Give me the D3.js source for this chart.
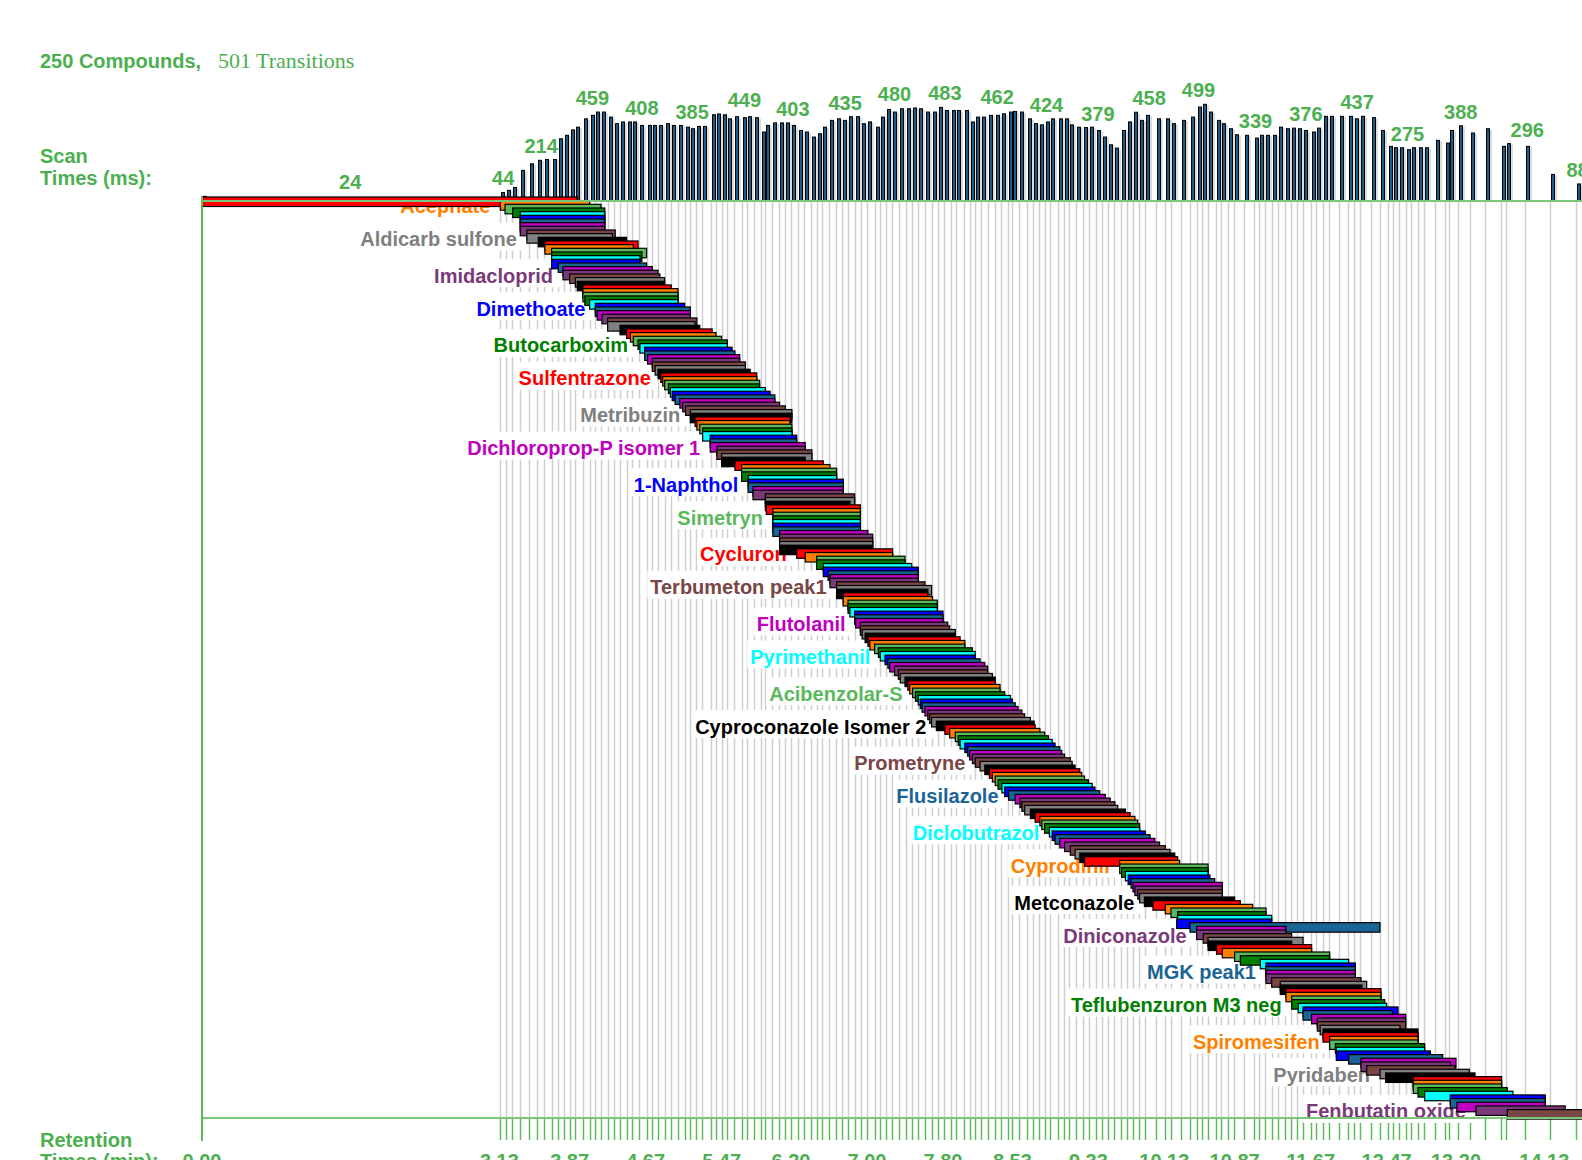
<!DOCTYPE html>
<html><head><meta charset="utf-8">
<script src="https://cdn.jsdelivr.net/npm/d3@7"></script>
<style>
html,body{margin:0;padding:0;background:#fff;}
svg{display:block;}
text{font-family:"Liberation Sans",Arial,sans-serif;font-weight:bold;}
</style></head><body>
<svg id="chart" width="1582" height="1160"></svg>
<script>
// ---- Compound retention windows (minutes), one per compound, top to bottom ----
const rtStart = [
0.00,3.14,3.19,3.27,3.35,3.35,3.35,3.35,3.35,3.42,
3.42,3.54,3.61,3.61,3.68,3.68,3.68,3.68,3.75,3.80,
3.80,3.87,3.93,3.95,4.01,4.01,4.01,4.03,4.08,4.14,
4.14,4.16,4.21,4.27,4.27,4.40,4.47,4.51,4.54,4.59,
4.61,4.66,4.66,4.69,4.74,4.74,4.77,4.80,4.83,4.85,
4.87,4.91,4.93,4.95,4.98,5.03,5.06,5.09,5.14,5.14,
5.19,5.21,5.24,5.27,5.27,5.35,5.35,5.35,5.42,5.42,
5.47,5.47,5.61,5.68,5.68,5.68,5.75,5.75,5.75,5.80,
5.80,5.93,5.93,5.93,5.94,6.01,6.01,6.01,6.01,6.01,
6.01,6.08,6.08,6.08,6.08,6.08,6.26,6.35,6.47,6.47,
6.54,6.54,6.59,6.61,6.61,6.68,6.68,6.68,6.75,6.75,
6.80,6.80,6.82,6.87,6.87,6.88,6.93,6.93,6.95,6.98,
7.01,7.03,7.08,7.12,7.14,7.19,7.22,7.24,7.29,7.33,
7.35,7.40,7.43,7.45,7.48,7.51,7.54,7.56,7.58,7.61,
7.64,7.66,7.68,7.73,7.82,7.87,7.93,7.96,7.98,8.03,
8.06,8.08,8.11,8.14,8.19,8.24,8.29,8.32,8.35,8.38,
8.42,8.45,8.49,8.56,8.61,8.63,8.66,8.72,8.77,8.82,
8.84,8.87,8.92,8.95,8.98,9.03,9.08,9.14,9.19,9.24,
9.29,9.66,9.66,9.68,9.72,9.75,9.78,9.80,9.82,9.85,
9.87,9.92,10.01,10.14,10.20,10.27,10.27,10.26,10.40,10.47,
10.47,10.54,10.59,10.59,10.68,10.74,10.87,10.93,11.14,11.20,
11.20,11.20,11.20,11.26,11.35,11.35,11.41,11.41,11.47,11.47,
11.54,11.59,11.59,11.68,11.74,11.74,11.77,11.80,11.80,11.87,
11.87,11.93,11.94,11.94,12.07,12.20,12.20,12.26,12.40,12.46,
12.75,12.75,12.75,12.80,12.87,13.14,13.14,13.21,13.41,13.74
];
const rtEnd = [
3.95,4.08,4.20,4.24,4.24,4.24,4.24,4.24,4.24,4.35,
4.32,4.47,4.59,4.54,4.68,4.63,4.61,4.61,4.68,4.74,
4.80,4.82,4.87,4.87,4.94,5.01,5.01,5.01,5.01,5.08,
5.14,5.14,5.14,5.21,5.19,5.24,5.37,5.41,5.47,5.53,
5.53,5.58,5.61,5.66,5.66,5.72,5.72,5.77,5.84,5.84,
5.87,5.87,5.93,5.98,6.03,6.03,6.08,6.14,6.21,6.21,
6.19,6.19,6.21,6.21,6.21,6.26,6.26,6.35,6.35,6.42,
6.42,6.35,6.54,6.61,6.68,6.68,6.68,6.75,6.75,6.75,
6.75,6.87,6.87,6.82,6.93,6.93,6.93,6.93,6.93,6.93,
6.93,7.01,7.06,7.06,7.06,7.06,7.27,7.27,7.40,7.40,
7.47,7.54,7.54,7.54,7.54,7.61,7.68,7.64,7.64,7.69,
7.74,7.74,7.74,7.80,7.80,7.80,7.85,7.87,7.93,7.93,
7.98,8.03,8.03,8.11,8.14,8.14,8.19,8.24,8.27,8.27,
8.32,8.35,8.35,8.40,8.40,8.45,8.51,8.53,8.56,8.59,
8.63,8.66,8.72,8.76,8.77,8.82,8.87,8.91,8.95,8.98,
9.03,9.05,9.08,9.14,9.16,9.19,9.24,9.26,9.29,9.33,
9.37,9.40,9.45,9.51,9.56,9.61,9.64,9.72,9.77,9.82,
9.85,9.87,9.87,9.93,9.98,10.03,10.08,10.14,10.19,10.24,
10.27,10.29,10.59,10.59,10.59,10.61,10.66,10.74,10.74,10.74,
10.74,10.87,10.93,11.06,11.20,11.20,11.26,11.26,12.40,11.41,
11.41,11.47,11.59,11.47,11.68,11.68,11.87,11.87,12.07,12.14,
12.14,12.14,12.14,12.20,12.26,12.21,12.41,12.41,12.41,12.45,
12.47,12.59,12.53,12.67,12.67,12.67,12.61,12.80,12.80,12.80,
12.80,12.87,12.87,12.93,13.06,13.20,13.14,13.19,13.34,13.40,
13.68,13.68,13.68,13.74,13.80,14.14,14.14,14.14,14.35,14.82
];
// ---- Labelled compounds (row index -> name) ----
const labelIndex = [1,10,20,29,39,48,58,67,77,86,96,105,115,124,134,143,153,162,172,181,191,200,210,219,229,238,248];
const labelNames = ["Acephate","Aldicarb sulfone","Imidacloprid","Dimethoate","Butocarboxim","Sulfentrazone","Metribuzin",
 "Dichloroprop-P isomer 1","1-Naphthol","Simetryn","Cycluron","Terbumeton peak1","Flutolanil","Pyrimethanil",
 "Acibenzolar-S","Cyproconazole Isomer 2","Prometryne","Flusilazole","Diclobutrazol","Cyprodinil","Metconazole",
 "Diniconazole","MGK peak1","Teflubenzuron M3 neg","Spiromesifen","Pyridaben","Fenbutatin oxide"];
// ---- Scan segments: event time (min) and scan time (ms) ----
const scanEventTimes = [
0,3.14,3.20,3.26,3.35,3.44,3.53,3.60,3.68,3.75,
3.81,3.87,3.93,4.01,4.08,4.14,4.20,4.27,4.34,4.40,
4.47,4.53,4.60,4.68,4.74,4.80,4.87,4.94,5.01,5.08,
5.14,5.20,5.26,5.36,5.41,5.47,5.53,5.60,5.68,5.74,
5.81,5.88,5.93,6.00,6.07,6.14,6.20,6.27,6.34,6.41,
6.47,6.53,6.60,6.67,6.74,6.80,6.87,6.94,7.00,7.08,
7.14,7.20,7.26,7.34,7.41,7.47,7.54,7.61,7.68,7.75,
7.81,7.88,7.94,8.02,8.08,8.14,8.20,8.27,8.35,8.41,
8.48,8.53,8.60,8.68,8.75,8.81,8.87,8.93,9.01,9.07,
9.13,9.20,9.27,9.34,9.41,9.47,9.54,9.60,9.67,9.74,
9.80,9.86,9.93,10.04,10.14,10.20,10.31,10.40,10.47,10.53,
10.59,10.67,10.73,10.80,10.86,10.97,11.07,11.13,11.19,11.26,
11.33,11.40,11.46,11.53,11.59,11.67,11.73,11.80,11.86,11.97,
12.06,12.13,12.19,12.31,12.40,12.48,12.54,12.60,12.67,12.73,
12.80,12.86,12.98,13.08,13.13,13.22,13.35,13.50,13.67,13.73,
13.93,14.19,14.46
];
const scanMs = [
24,44,55,70,158,192,210,214,214,321,
339,367,381,424,442,459,459,433,399,408,
408,408,390,390,390,390,399,390,390,381,
373,385,385,445,449,445,424,435,430,435,
430,356,390,403,403,403,390,364,356,330,
347,381,416,424,416,435,435,399,408,381,
433,472,459,476,476,480,476,459,459,483,
467,467,467,467,408,433,433,442,442,450,
459,462,459,424,399,393,408,424,424,424,
393,381,379,381,364,330,290,273,364,408,
458,416,442,424,424,399,416,433,485,499,
459,416,399,373,342,339,325,339,339,339,
381,373,376,373,364,356,376,437,437,437,
437,424,437,430,364,282,275,275,265,275,
275,275,313,299,364,388,351,373,282,296,
282,137,88
];
const scanLabelTimes  = [1.56,3.17,3.57,4.11,4.63,5.16,5.71,6.22,6.77,7.29,7.82,8.37,8.89,9.43,9.97,10.49,11.09,11.62,12.16,12.69,13.25,13.95,14.48];
const scanLabelValues = [24,44,214,459,408,385,449,403,435,480,483,462,424,379,458,499,339,376,437,275,388,296,88];
// ---- Retention-time axis labels (min) ----
const axisTickValues = [0,3.13,3.87,4.67,5.47,6.20,7.00,7.80,8.53,9.33,10.13,10.87,11.67,12.47,13.20,14.13];

const colorCycle = ["#ff0000","#ff8000","#5cb85c","#008000","#00ffff","#0000ff","#1a6496","#c000c0","#7a3a7a","#7a4545","#808080","#000000"];

const svg = d3.select("#chart");
const x = d3.scaleLinear().domain([0, 14]).range([202, 202 + 95 * 14]);
const yRow = d3.scaleLinear().domain([0, 250]).range([197, 197 + 250 * 3.665]);
const yScan = d3.scaleLinear().domain([0, 499]).range([201, 104.3]);
const plotTop = 201, plotBottom = 1118, rowH = 9.5;
const GREEN = "#4caf50", AXIS = "#7cc67c", TICK = "#5cba5c";

// gridlines
const evts = scanEventTimes.filter(t => t > 0);
svg.append("g").selectAll("line").data(evts).join("line")
  .attr("x1", d => Math.round(x(d)) + 0.5).attr("x2", d => Math.round(x(d)) + 0.5)
  .attr("y1", plotTop).attr("y2", plotBottom)
  .attr("stroke", "#cfcfcf").attr("stroke-width", 1.5);
// ticks below bottom axis
svg.append("g").selectAll("line").data(evts).join("line")
  .attr("x1", d => Math.round(x(d)) + 0.5).attr("x2", d => Math.round(x(d)) + 0.5)
  .attr("y1", plotBottom).attr("y2", 1140)
  .attr("stroke", TICK).attr("stroke-width", 1.5);

// scan time bars
const scanData = scanEventTimes.slice(0, scanMs.length).map((t, i) => ({t, v: scanMs[i]}));
const sg = svg.append("g");
sg.selectAll("line").data(scanData).join("line")
  .attr("x1", d => Math.round(x(d.t)) + 6).attr("x2", d => Math.round(x(d.t)) + 6)
  .attr("y1", d => yScan(d.v) + 1).attr("y2", plotTop)
  .attr("stroke", "#b8b8b8").attr("stroke-width", 1);
sg.selectAll("rect").data(scanData).join("rect")
  .attr("x", d => Math.round(x(d.t)) + 1.5).attr("width", 3)
  .attr("y", d => yScan(d.v)).attr("height", d => plotTop - yScan(d.v))
  .attr("fill", "#1c5a88").attr("stroke", "#000").attr("stroke-width", 1);

// scan time labels
svg.append("g").selectAll("text").data(scanLabelTimes.map((t, i) => ({t, v: scanLabelValues[i]}))).join("text")
  .attr("x", d => x(d.t)).attr("y", d => yScan(d.v) - 7)
  .attr("text-anchor", "middle").attr("font-size", 20).attr("fill", GREEN)
  .text(d => d.v);

// compound labels with white boxes
const lg = svg.append("g");
labelIndex.forEach((idx, k) => {
  const top = yRow(idx);
  const xr = x(rtStart[idx]) - 10;
  const t = lg.append("text").attr("x", xr).attr("y", top + 12.5)
    .attr("text-anchor", "end").attr("font-size", 20)
    .attr("fill", colorCycle[idx % 12]).text(labelNames[k]);
  const w = t.node().getComputedTextLength();
  lg.insert("rect", () => t.node())
    .attr("x", xr - w - 3).attr("y", top - 11).attr("width", w + 10).attr("height", 28)
    .attr("fill", "#fff");
});

// compound bars
svg.append("g").selectAll("rect").data(d3.range(Math.min(rtStart.length, rtEnd.length))).join("rect")
  .attr("x", i => x(rtStart[i])).attr("y", i => yRow(i))
  .attr("width", i => x(rtEnd[i]) - x(rtStart[i])).attr("height", rowH)
  .attr("fill", i => colorCycle[i % 12]).attr("stroke", "#000").attr("stroke-width", 1.2);

// axis lines
svg.append("line").attr("x1", x(0)).attr("x2", 1582).attr("y1", plotTop).attr("y2", plotTop).attr("stroke", AXIS).attr("stroke-width", 2);
svg.append("line").attr("x1", x(0)).attr("x2", 1582).attr("y1", plotBottom).attr("y2", plotBottom).attr("stroke", AXIS).attr("stroke-width", 2);
svg.append("line").attr("x1", x(0)).attr("x2", x(0)).attr("y1", 197).attr("y2", 1141).attr("stroke", TICK).attr("stroke-width", 2);

// bottom axis labels
svg.append("g").selectAll("text").data(axisTickValues).join("text")
  .attr("x", d => x(d)).attr("y", 1167.5).attr("text-anchor", "middle")
  .attr("font-size", 20).attr("fill", GREEN).text(d => d.toFixed(2));

// titles
svg.append("text").attr("x", 40).attr("y", 68).attr("font-size", 20).attr("fill", GREEN).text("250 Compounds,");
svg.append("text").attr("x", 218).attr("y", 68).attr("font-size", 22).attr("fill", GREEN)
  .style("font-family", "'Liberation Serif','Times New Roman',serif").style("font-weight", "normal")
  .text("501 Transitions");
svg.append("text").attr("x", 40).attr("y", 163).attr("font-size", 20).attr("fill", GREEN).text("Scan");
svg.append("text").attr("x", 40).attr("y", 185).attr("font-size", 20).attr("fill", GREEN).text("Times (ms):");
svg.append("text").attr("x", 40).attr("y", 1147).attr("font-size", 20).attr("fill", GREEN).text("Retention");
svg.append("text").attr("x", 40).attr("y", 1167.5).attr("font-size", 20).attr("fill", GREEN).text("Times (min):");
</script>
</body></html>
